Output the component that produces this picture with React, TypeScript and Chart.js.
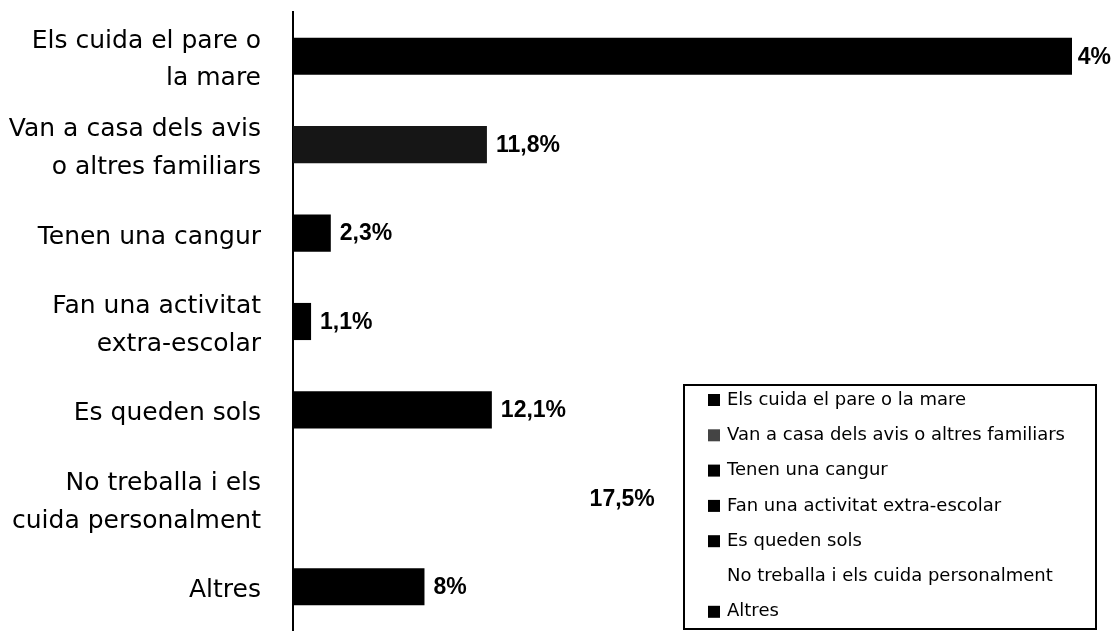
import React, { useEffect, useRef } from "react";
import { Chart, registerables } from "chart.js";

Chart.register(...registerables);

const categories: (string | string[])[] = [
  ["Els cuida el pare o", "la mare"],
  ["Van a casa dels avis", "o altres familiars"],
  "Tenen una cangur",
  ["Fan una activitat", "extra-escolar"],
  "Es queden sols",
  ["No treballa i els", "cuida personalment"],
  "Altres",
];
const legendLabels = [
  "Els cuida el pare o la mare",
  "Van a casa dels avis o altres familiars",
  "Tenen una cangur",
  "Fan una activitat extra-escolar",
  "Es queden sols",
  "No treballa i els cuida personalment",
  "Altres",
];
const values = [47.4, 11.8, 2.3, 1.1, 12.1, 17.5, 8];
const valueLabels = ["47,4%", "11,8%", "2,3%", "1,1%", "12,1%", "17,5%", "8%"];
const barColors = ["#000000", "#161616", "#000000", "#000000", "#000000", "rgba(255,255,255,0)", "#000000"];
const legendMarkerColors = ["#000000", "#444444", "#000000", "#000000", "#000000", "rgba(255,255,255,0)", "#000000"];

export default function App() {
  const ref = useRef<HTMLCanvasElement | null>(null);
  useEffect(() => {
    document.body.style.margin = "0";
    const canvas = ref.current!;
    const valuePlugin = {
      id: "valueLabels",
      afterDatasetsDraw(chart: any) {
        const ctx = chart.ctx;
        const meta = chart.getDatasetMeta(0);
        ctx.save();
        ctx.fillStyle = "#000";
        ctx.font = "bold 23px 'Liberation Sans', Arial, sans-serif";
        ctx.textBaseline = "middle";
        meta.data.forEach((bar: any, i: number) => {
          const txt = valueLabels[i];
          const w = ctx.measureText(txt).width;
          const x = bar.x + 9;
          if (x + w > chart.width - 2) {
            // label does not fit: it is clipped at the bar end, as in the source
            ctx.save();
            ctx.beginPath();
            ctx.rect(bar.x + 6, bar.y - 30, chart.width - bar.x, 60);
            ctx.clip();
            ctx.textAlign = "right";
            ctx.fillText(txt, chart.width - 2, bar.y + 1);
            ctx.restore();
          } else {
            ctx.textAlign = "left";
            ctx.fillText(txt, x, bar.y + 1);
          }
        });
        ctx.restore();
      },
    };
    const legendPlugin = {
      id: "boxLegend",
      afterDraw(chart: any) {
        const ctx = chart.ctx;
        ctx.save();
        ctx.fillStyle = "#fff";
        ctx.fillRect(684, 385, 412, 244);
        ctx.strokeStyle = "#000";
        ctx.lineWidth = 2;
        ctx.strokeRect(684, 385, 412, 244);
        ctx.font = "18px 'DejaVu Sans', sans-serif";
        ctx.textBaseline = "middle";
        ctx.textAlign = "left";
        legendLabels.forEach((lab, i) => {
          const y = 400 + i * 35.3;
          ctx.fillStyle = legendMarkerColors[i];
          ctx.fillRect(708, y - 6, 12, 12);
          ctx.fillStyle = "#000";
          ctx.fillText(lab, 727, y);
        });
        ctx.restore();
      },
    };
    const chart = new Chart(canvas, {
      type: "bar",
      data: {
        labels: categories,
        datasets: [
          {
            data: values,
            backgroundColor: barColors,
            borderWidth: 0,
            categoryPercentage: 1,
            barPercentage: 0.42,
          },
        ],
      },
      options: {
        indexAxis: "y",
        animation: false,
        responsive: false,
        maintainAspectRatio: false,
        layout: { padding: { top: 12, right: 41, bottom: 0, left: 0 } },
        plugins: { legend: { display: false }, tooltip: { enabled: false } },
        scales: {
          x: { display: false, min: 0, max: 47.4 },
          y: {
            grid: { display: false },
            border: { display: true, color: "#000", width: 2 },
            ticks: {
              color: "#000",
              padding: 24,
              labelOffset: 4,
              font: { family: "'DejaVu Sans', sans-serif", size: 25, lineHeight: 1.5 },
            },
            afterFit(scale: any) {
              scale.width = 293;
              scale.paddingTop = 0;
              scale.paddingBottom = 0;
            },
          },
        },
      },
      plugins: [valuePlugin, legendPlugin],
    });
    return () => chart.destroy();
  }, []);
  return <canvas ref={ref} width={1113} height={631} style={{ display: "block" }} />;
}
